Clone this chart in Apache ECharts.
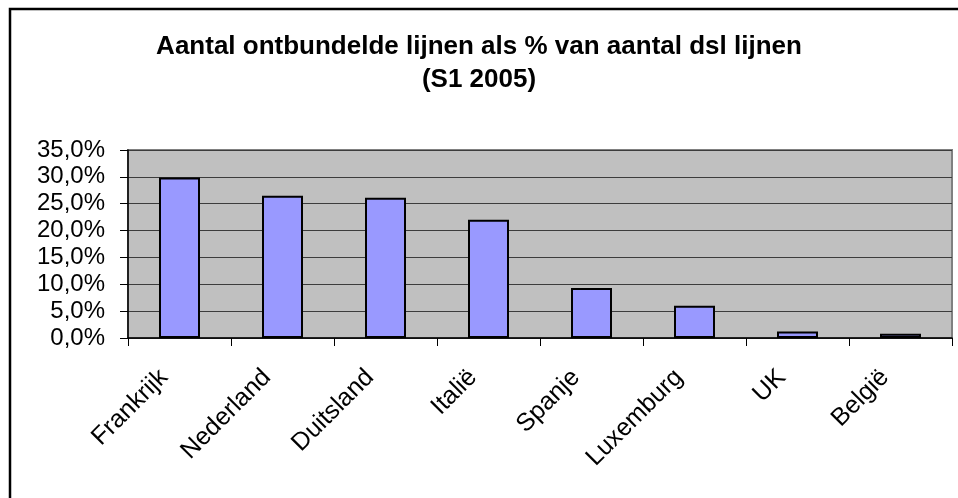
<!DOCTYPE html>
<html>
<head>
<meta charset="utf-8">
<script src="https://cdn.jsdelivr.net/npm/echarts@6/dist/echarts.min.js"></script>
<style>
  html, body { margin: 0; padding: 0; background: #ffffff; }
  #chart { width: 958px; height: 498px; }
</style>
</head>
<body>
<div id="chart"></div>
<script>
// gegevens
const titleLines = ['Aantal ontbundelde lijnen als % van aantal dsl lijnen', '(S1 2005)']
const landen = ['Frankrijk', 'Nederland', 'Duitsland', 'Italië', 'Spanje', 'Luxemburg', 'UK', 'België']
const percentages = [29.9, 26.5, 26.1, 22.0, 9.3, 6.0, 1.2, 0.8]
const yMin = 0
const yMax = 35
const yStep = 5

const font = 'Liberation Sans, Arial, sans-serif'

let chart = echarts.init(document.getElementById('chart'))
chart.setOption({
  animation: false,
  backgroundColor: '#ffffff',
  title: {
    text: titleLines.join('\n'),
    left: 'center',
    top: 25,
    textStyle: {
      fontFamily: font,
      fontSize: 26,
      fontWeight: 'bold',
      color: '#000000',
      lineHeight: 33
    }
  },
  graphic: [{
    type: 'rect',
    shape: { x: 10, y: 9, width: 960, height: 500 },
    style: { fill: 'none', stroke: '#000000', lineWidth: 2.5 },
    silent: true
  }],
  grid: {
    left: 128,
    top: 150,
    right: 6,
    bottom: 160,
    show: true,
    backgroundColor: '#c0c0c0',
    borderColor: '#808080',
    borderWidth: 2
  },
  xAxis: {
    type: 'category',
    data: landen,
    axisLine: { lineStyle: { color: '#000000', width: 1.5 } },
    axisTick: { show: true, length: 8, lineStyle: { color: '#000000' } },
    axisLabel: {
      rotate: 45,
      margin: 20,
      padding: [0, 22, 0, 0],
      interval: 0,
      fontFamily: font,
      fontSize: 25,
      color: '#000000'
    }
  },
  yAxis: {
    type: 'value',
    min: yMin,
    max: yMax,
    interval: yStep,
    axisLine: { show: true, lineStyle: { color: '#000000', width: 1.5 } },
    axisTick: { show: true, length: 8, lineStyle: { color: '#000000' } },
    splitLine: { show: true, lineStyle: { color: '#3c3c3c', width: 1 } },
    axisLabel: {
      margin: 23,
      fontFamily: font,
      fontSize: 24,
      color: '#000000',
      formatter: v => v.toFixed(1).replace('.', ',') + '%'
    }
  },
  series: [{
    type: 'bar',
    data: percentages,
    barWidth: 41,
    itemStyle: {
      color: '#9999ff',
      borderColor: '#000000',
      borderWidth: 2
    }
  }]
})
</script>
</body>
</html>
